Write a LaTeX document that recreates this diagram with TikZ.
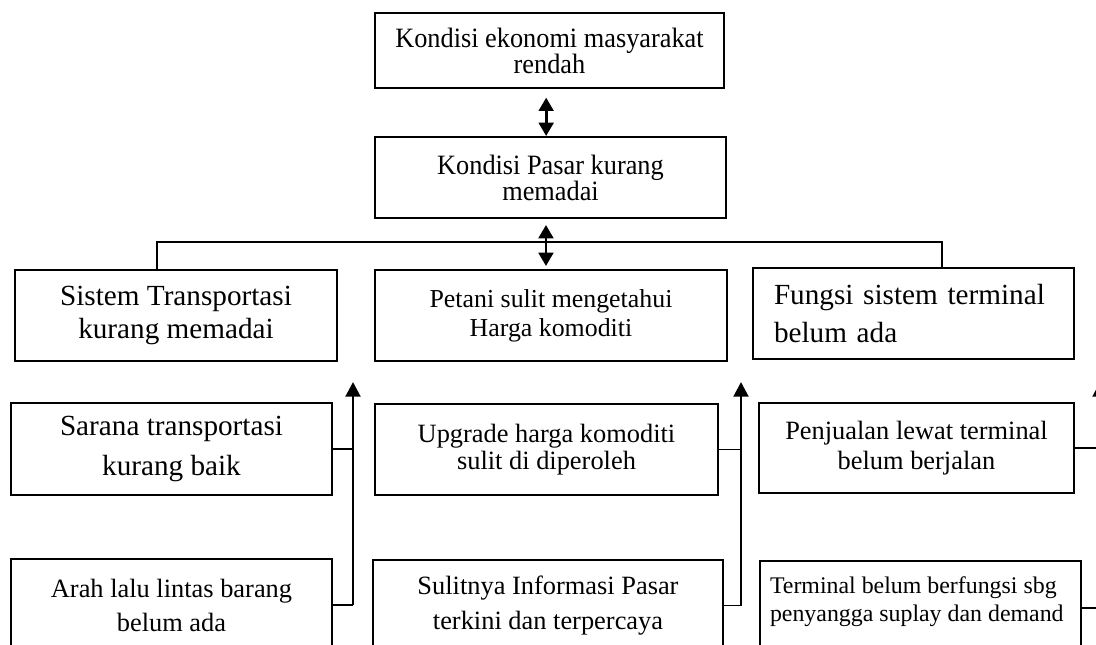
\documentclass[tikz,border=0pt]{standalone}
\usepackage{fontspec}
\setmainfont{Liberation Serif}
\newfontfamily\sempit{Liberation Serif}[FakeStretch=0.94]
\usetikzlibrary{arrows.meta}
\tikzset{
    kotak/.style = {rectangle, draw=black, line width=1.5pt, align=center, inner sep=0pt, font=\fontsize{19.8}{21}\selectfont},
    kotakb/.style = {kotak, font=\fontsize{21.9}{28.5}\selectfont},
    kotaks/.style = {kotak, font=\sempit\fontsize{21}{19.5}\selectfont},
    garis/.style = {line width=1.2pt},
    panah/.style = {line width=2.2pt, -{Triangle[length=11pt,width=11pt]}},
    dua/.style = {line width=2.2pt, {Triangle[length=10pt,width=11pt]}-{Triangle[length=10pt,width=11pt]}}
}
\begin{document}
\begin{tikzpicture}[x=0.75pt, y=-0.75pt]
\useasboundingbox (0,0) rectangle (1096,645);
% atas
\node[kotaks, minimum width=261.75pt, minimum height=56.25pt] at (549.5,50.5) (eko) {Kondisi ekonomi masyarakat\\rendah};
\node[kotaks, minimum width=263.25pt, minimum height=60.75pt] at (550.5,177.5) (pasar) {Kondisi Pasar kurang\\memadai};
%
\node[kotakb, minimum width=241.5pt, minimum height=68.25pt, font=\fontsize{21.9}{24.75}\selectfont] at (176,315.5) (sistem) {Sistem Transportasi\\kurang memadai};
\node[kotak, minimum width=264pt, minimum height=68.25pt, font=\fontsize{19.4}{21.75}\selectfont] at (551,315.5) (petani) {Petani sulit mengetahui\\Harga komoditi};
\node[kotakb, minimum width=240.75pt, minimum height=68.25pt, text width=209.25pt, inner xsep=15.75pt, align=left] at (913.5,313.5) (fungsi) {Fungsi sistem terminal\\belum ada};
%
\node[kotakb, minimum width=240.75pt, minimum height=69pt, font=\fontsize{21.9}{30}\selectfont] at (171.5,449) (sarana) {Sarana transportasi\\kurang baik};
\node[kotak, minimum width=257.25pt, minimum height=68.25pt, font=\fontsize{19.8}{20.25}\selectfont] at (546.5,449.5) (upgrade) {Upgrade harga komoditi\\sulit di diperoleh};
\node[kotak, minimum width=236.25pt, minimum height=67.5pt, font=\fontsize{19.8}{22.5}\selectfont] at (916.5,448) (jual) {Penjualan lewat terminal\\belum berjalan};
%
\node[kotak, minimum width=240.75pt, minimum height=69pt, font=\fontsize{19.8}{25.5}\selectfont] at (171.5,605) (arah) {Arah lalu lintas barang\\belum ada};
\node[kotak, minimum width=262.5pt, minimum height=68.25pt, font=\fontsize{19.8}{26.25}\selectfont] at (548,605.5) (sulit) {Sulitnya Informasi Pasar\\terkini dan terpercaya};
\node[kotak, anchor=north west, inner xsep=7.5pt, inner ysep=11.5pt, font=\fontsize{17.9}{21}\selectfont] at (759,560) (terminal) {\parbox[c][100pt][t]{225.75pt}{\raggedright Terminal belum berfungsi sbg\\penyangga suplay dan demand}};
%
\draw[dua, shorten <=6.5pt] ([xshift=-2.5pt]eko.south) -- ([xshift=-2.5pt]eko.south |- pasar.north);
\draw[dua, shorten <=4.5pt, shorten >=2.25pt] ([xshift=-3.4pt]pasar.south) -- ([xshift=-3.4pt]pasar.south |- petani.north);
%
\coordinate (barL) at (157,242);
\coordinate (barR) at (942,242);
\draw[garis] (barL |- sistem.north) -- (barL) -- (barR) -- (barR |- fungsi.north);
%
\coordinate (pL) at (353,382);
\coordinate (pM) at (741,382);
\coordinate (pR) at (1100,382);
\draw[garis] (sarana.east) -- (sarana.east -| pL);
\draw[garis] (arah.east) -- (arah.east -| pL);
\draw[panah] (arah.east -| pL) -- (pL);
\draw[garis] (upgrade.east) -- (upgrade.east -| pM);
\draw[garis] (sulit.east) -- (sulit.east -| pM);
\draw[panah] (sulit.east -| pM) -- (pM);
\draw[garis] (jual.east) -- (jual.east -| pR);
\draw[garis] ([yshift=-36pt]terminal.north east) -- ([yshift=-36pt]terminal.north east -| pR);
\draw[panah] ([yshift=-36pt]terminal.north east -| pR) -- (pR);
\end{tikzpicture}
\end{document}
